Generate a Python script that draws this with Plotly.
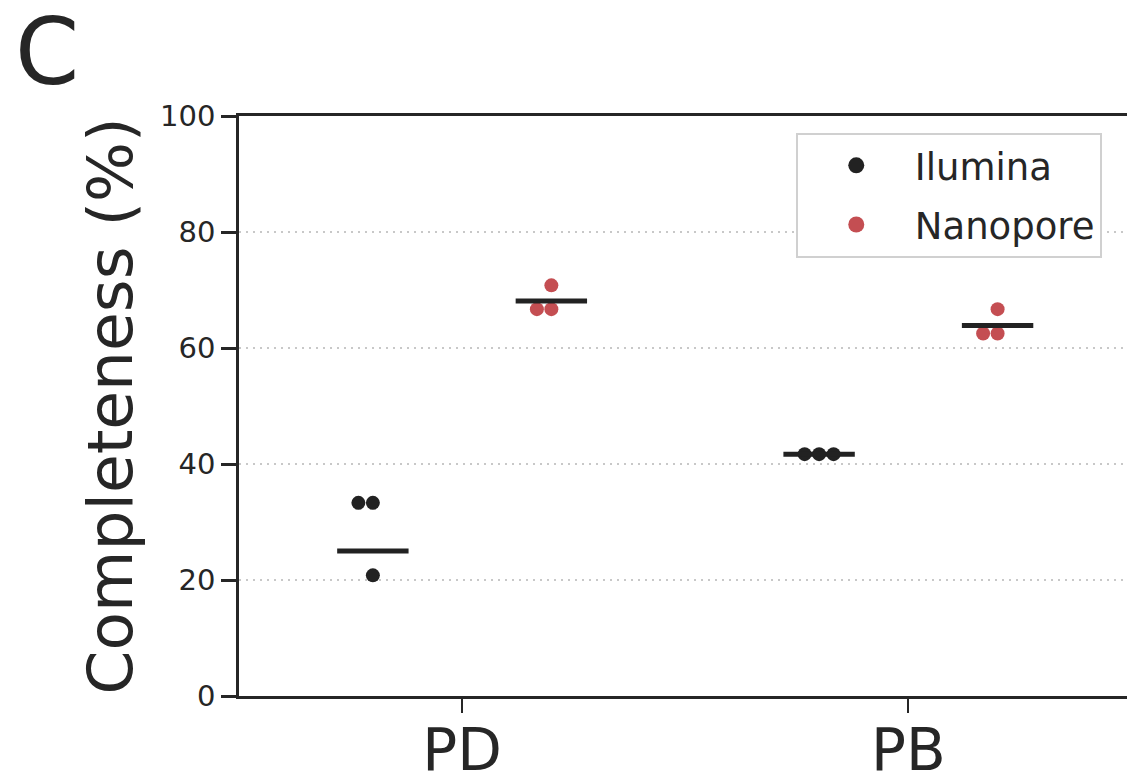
import plotly.graph_objects as go

# ---- data ----
categories = ["PD", "PB"]
illumina_pd = [33.3, 33.3, 20.8]
illumina_pb = [41.7, 41.7, 41.7]
nanopore_pd = [70.8, 66.7, 66.7]
nanopore_pb = [66.7, 62.5, 62.5]
illumina_centre = [25.0, 41.7]
nanopore_centre = [68.1, 63.9]
y_ticks = [0, 20, 40, 60, 80, 100]

BLACK = "#222222"
RED = "#C44E52"
AX = "#262626"
FONT = "DejaVu Sans"

# pixel scale of plot area (for swarm placement)
PX_X = 447.0
PX_Y = 5.8
D_PX = 14.5


def swarm(ys):
    order = sorted(range(len(ys)), key=lambda i: ys[i])
    placed = []
    offs = [0.0] * len(ys)
    d = D_PX / PX_X
    for i in order:
        y = ys[i]
        for k in range(0, 20):
            cand = 0 if k == 0 else (-((k + 1) // 2) if k % 2 == 1 else (k // 2))
            xo = cand * d
            ok = True
            for (px, py) in placed:
                dx = (xo - px) * PX_X
                dy = (y - py) * PX_Y
                if (dx * dx + dy * dy) ** 0.5 < D_PX - 0.5:
                    ok = False
                    break
            if ok:
                placed.append((xo, y))
                offs[i] = xo
                break
    return offs


fig = go.Figure()
series = [
    ("Ilumina", BLACK, [illumina_pd, illumina_pb], illumina_centre, -0.2),
    ("Nanopore", RED, [nanopore_pd, nanopore_pb], nanopore_centre, 0.2),
]

for name, color, groups, centres, dodge in series:
    xs, ys = [], []
    for ci, vals in enumerate(groups):
        offs = swarm(vals)
        for v, o in zip(vals, offs):
            xs.append(ci + dodge + o)
            ys.append(v)
    fig.add_trace(go.Scatter(x=xs, y=ys, mode="markers", showlegend=False,
                             marker=dict(size=14, color=color, line=dict(width=0))))
    for ci, m in enumerate(centres):
        fig.add_trace(go.Scatter(x=[ci + dodge - 0.08, ci + dodge + 0.08], y=[m, m],
                                 mode="lines", showlegend=False, hoverinfo="skip",
                                 line=dict(color=BLACK, width=5)))

for gi, (name, color, _, _, _) in enumerate(series):
    fig.add_trace(go.Scatter(x=[None], y=[None], mode="markers", name=name,
                             legendgroup=name,
                             marker=dict(size=22, color=color)))

fig.update_layout(
    width=1127, height=778,
    margin=dict(l=239, r=0, t=116, b=82),
    plot_bgcolor="white", paper_bgcolor="white",
    font=dict(family=FONT, color=AX),
    legend=dict(x=0.627, y=0.971, xanchor="left", yanchor="top",
                bordercolor="#d0d0d0", borderwidth=2, bgcolor="white",
                font=dict(size=37, family=FONT, color=AX),
                itemwidth=107, tracegroupgap=8, traceorder="grouped"),
    annotations=[dict(text="C", xref="paper", yref="paper", x=-0.254, y=1.205,
                      xanchor="left", yanchor="top", showarrow=False,
                      font=dict(size=92, family=FONT, color=AX))],
)

fig.update_xaxes(range=[-0.5, 1.49], tickvals=[0, 1], ticktext=categories,
                 showline=True, linecolor=AX, linewidth=2.5, mirror=True,
                 ticks="outside", ticklen=14, tickwidth=2, tickcolor=AX,
                 ticklabelstandoff=-12,
                 tickfont=dict(size=58, family=FONT, color=AX),
                 showgrid=False, zeroline=False, automargin=False)
fig.update_yaxes(range=[0, 100], tickvals=y_ticks,
                 showline=True, linecolor=AX, linewidth=2.5, mirror=False,
                 ticks="outside", ticklen=15, tickwidth=2.5, tickcolor=AX,
                 tickfont=dict(size=29, family=FONT, color=AX),
                 showgrid=True, gridcolor="#c8c8c8", gridwidth=2, griddash="2px,5px",
                 zeroline=False, automargin=False,
                 title=dict(text="Completeness (%)", standoff=8,
                            font=dict(size=63, family=FONT, color=AX)))

fig.write_html("out.html", config={"displayModeBar": False},
               post_script="document.body.style.margin='0';")
